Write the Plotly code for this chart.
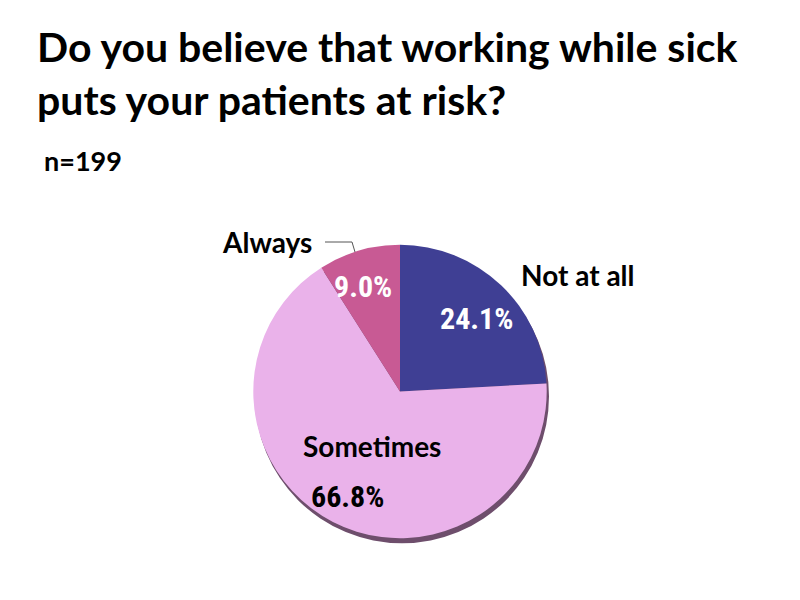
import plotly.graph_objects as go

categories = ["Not at all", "Sometimes", "Always"]
shares = [24.1, 66.8, 9.0]
colors = ["#3F3F94", "#EAB2EA", "#C85A94"]

TITLE = "Do you believe that working while sick<br>puts your patients at risk?"
SUBTITLE = "n=199"

W, H = 800, 600

label_font = dict(family="Lato", size=28, color="black", weight="bold")
pct_font = dict(family="Liberation Sans Narrow, Arial Narrow, Roboto Condensed, sans-serif",
                size=30, weight="bold")


def px(x, y):
    return x / W, 1 - y / H


fig = go.Figure()

# drop shadow under the pie
fig.add_trace(go.Pie(
    values=[sum(shares)],
    marker=dict(colors=["#6E4E6C"], line=dict(width=0)),
    textinfo="none", hoverinfo="skip", showlegend=False, sort=False,
    domain=dict(x=[0.3075, 0.6775], y=[0.108, 0.598]),
))

fig.add_trace(go.Pie(
    labels=categories,
    values=shares,
    marker=dict(colors=colors, line=dict(width=0)),
    sort=False,
    direction="clockwise",
    rotation=0,
    textinfo="none",
    showlegend=False,
    domain=dict(x=[0.3065, 0.6735], y=[0.1163, 0.6053]),
))

# label placement (figure pixels)
label_pos = {"Not at all": (570, 267), "Sometimes": (364, 438), "Always": (259, 234)}
pct_pos = {"Not at all": (468, 310, "white"), "Sometimes": (339, 488, "black"),
           "Always": (355, 278, "white")}
for cat, val in zip(categories, shares):
    lx, ly = px(*label_pos[cat])
    fig.add_annotation(x=lx, y=ly, xref="paper", yref="paper", xanchor="center",
                       yanchor="middle", text=cat, showarrow=False, font=label_font)
    x, y, c = pct_pos[cat]
    tx, ty = px(x, y)
    fig.add_annotation(x=tx, y=ty, xref="paper", yref="paper", xanchor="center",
                       yanchor="middle", text=f"{val:.1f}%", showarrow=False,
                       font=dict(pct_font, color=c))

# leader line for "Always"
p1, p2, p3 = px(317, 234), px(344, 234), px(347, 244)
fig.add_shape(type="path", xref="paper", yref="paper",
              path=f"M {p1[0]} {p1[1]} L {p2[0]} {p2[1]} L {p3[0]} {p3[1]}",
              line=dict(color="#555555", width=1))

tx, ty = px(27, 12)
fig.add_annotation(x=tx, y=ty, xref="paper", yref="paper",
                   xanchor="left", yanchor="top", align="left", text=TITLE, showarrow=False,
                   font=dict(family="Lato", size=41, color="black", weight="bold"))
sx, sy = px(34, 134)
fig.add_annotation(x=sx, y=sy, xref="paper", yref="paper",
                   xanchor="left", yanchor="top", text=SUBTITLE, showarrow=False,
                   font=dict(family="Lato", size=27, color="black", weight="bold"))

fig.update_layout(
    width=W, height=H,
    margin=dict(l=0, r=0, t=0, b=0),
    paper_bgcolor="white",
    plot_bgcolor="white",
)

fig.write_html("out.html")
